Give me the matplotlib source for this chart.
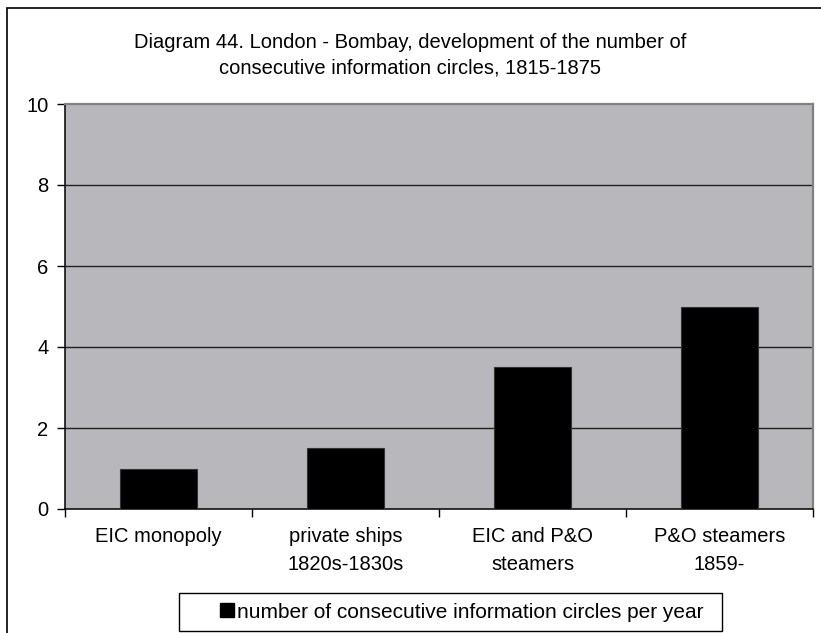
import matplotlib.pyplot as plt
from matplotlib.patches import Patch, Rectangle

plt.rcParams['font.family'] = ['Liberation Sans', 'DejaVu Sans']

# Data
categories = ['EIC monopoly', 'private ships\n1820s-1830s', 'EIC and P&O\nsteamers', 'P&O steamers\n1859-']
circles = [1.0, 1.5, 3.5, 5.0]
series_name = 'number of consecutive information circles per year'
y_ticks = [0, 2, 4, 6, 8, 10]

W, H = 821, 633
fig = plt.figure(figsize=(W / 100, H / 100), dpi=100)

# outer chart frame (cut off at right and bottom like the source)
fig.patches.append(Rectangle((7 / W, -0.1), 1.2, 1 - 8 / H + 0.1, transform=fig.transFigure,
                             fill=False, edgecolor='black', linewidth=1.2, clip_on=False))

ax = fig.add_axes([65 / W, 124 / H, 748 / W, 405 / H])
ax.set_facecolor('#b8b8bc')

x = range(len(categories))
ax.bar(x, circles, width=0.41, color='black', edgecolor='#333333', linewidth=0.8, zorder=3)

ax.set_xlim(-0.5, len(categories) - 0.5)
ax.set_ylim(0, 10)
ax.set_yticks(y_ticks)
ax.set_yticklabels([str(v) for v in y_ticks], fontsize=14.5)
for v in y_ticks[1:-1]:
    ax.axhline(v, color='#202020', linewidth=1.0, zorder=1)

ax.set_xticks(list(x))
ax.set_xticklabels(categories, fontsize=14.5, linespacing=1.6, va='top')
ax.tick_params(axis='x', which='major', length=0, pad=13)
ax.set_xticks([i - 0.5 for i in range(len(categories) + 1)], minor=True)
ax.tick_params(axis='x', which='minor', length=6, color='black', width=1)
ax.tick_params(axis='y', length=6, width=1, color='black', pad=6)

for side in ['left', 'bottom']:
    ax.spines[side].set_color('black')
    ax.spines[side].set_linewidth(1.1)
for side in ['top', 'right']:
    ax.spines[side].set_color('#808080')
    ax.spines[side].set_linewidth(1.6)

fig.text(410 / W, 1 - 55 / H, 'Diagram 44. London - Bombay, development of the number of\n'
         'consecutive information circles, 1815-1875',
         ha='center', va='center', fontsize=14.5, linespacing=1.45)

# legend box drawn separately (wide, with extra room on the left like the source)
fig.patches.append(Rectangle((179 / W, 1 - 631 / H), 543 / W, 38 / H, transform=fig.transFigure,
                             fill=True, facecolor='white', edgecolor='black', linewidth=1.0))
fig.legend(handles=[Patch(facecolor='black', edgecolor='black', label=series_name)],
           loc='center left', bbox_to_anchor=(220 / W, 1 - 612 / H), fontsize=15,
           frameon=False, handlelength=0.68, handleheight=0.68, handletextpad=0.15,
           borderpad=0, borderaxespad=0)

fig.savefig('out.png', dpi=100)
